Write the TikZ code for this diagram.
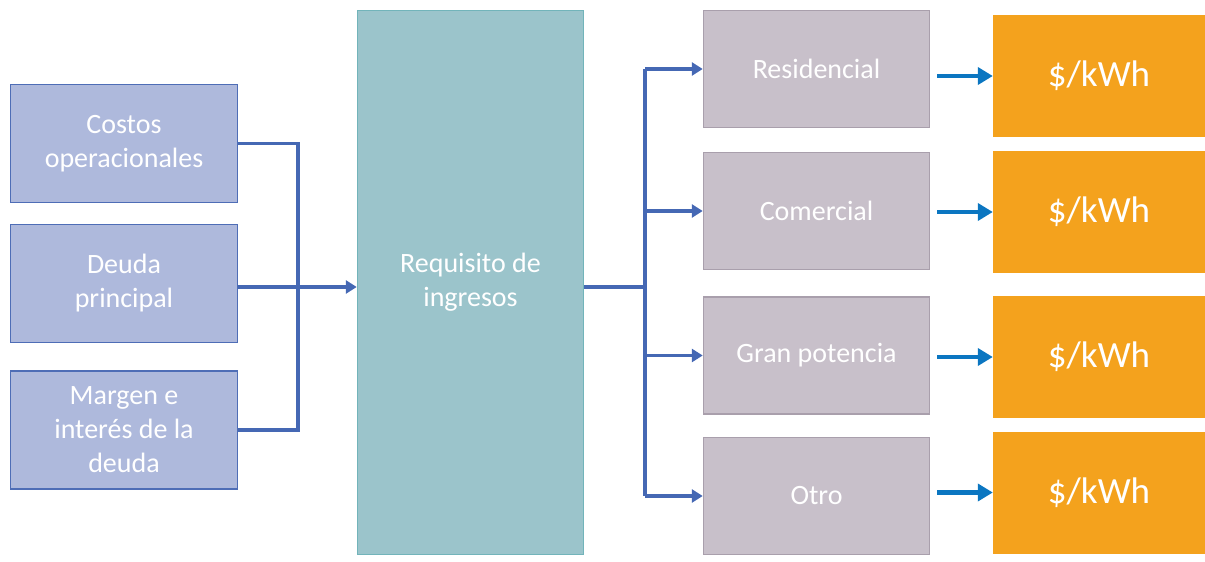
\documentclass[tikz,border=0pt]{standalone}
\usepackage{fontspec}
\setmainfont{Carlito}
\usetikzlibrary{arrows.meta}
\definecolor{costfill}{HTML}{AEB9DC}
\definecolor{costline}{HTML}{4E6DB6}
\definecolor{reqfill}{HTML}{9BC4CB}
\definecolor{reqline}{HTML}{72B4BA}
\definecolor{classfill}{HTML}{C8C0CA}
\definecolor{classline}{HTML}{A99FAC}
\definecolor{pricefill}{HTML}{F4A21D}
\definecolor{feedline}{HTML}{4568B4}
\definecolor{pricearrow}{HTML}{0B76C1}

\begin{document}
\begin{tikzpicture}[x=1pt,y=-1pt,
    costbox/.style={draw=costline, line width=1.5pt, fill=costfill, text=white,
      minimum width=227pt, minimum height=118pt, align=center,
      font=\fontsize{28}{34}\selectfont},
    reqbox/.style={draw=reqline, line width=1.5pt, fill=reqfill, text=white,
      minimum width=226pt, minimum height=544pt, align=center,
      font=\fontsize{28}{34}\selectfont},
    classbox/.style={draw=classline, line width=1.5pt, fill=classfill, text=white,
      minimum width=226pt, minimum height=117pt, align=center,
      font=\fontsize{28}{34}\selectfont},
    pricebox/.style={fill=pricefill, text=white, minimum width=212pt,
      minimum height=122pt, font=\fontsize{37}{44}\selectfont},
    feed/.style={draw=feedline, line width=3.5pt},
    feedarrow/.style={feed, -{Triangle[length=11pt,width=13pt]}},
    pricelink/.style={draw=pricearrow, line width=4.5pt, shorten <=7pt,
      -{Triangle[length=15pt,width=17pt]}}]
\useasboundingbox (0,0) rectangle (1205,562);

% costos que forman el requisito
\node[costbox] (costos) at (124,143.5) {Costos\\operacionales};
\node[costbox] (deuda) at (124,283.5) {Deuda\\principal};
\node[costbox] (margen) at (124,430) {Margen e\\interés de la\\deuda};

\node[reqbox] (req) at (470.5,282.5) {Requisito de\\ingresos};

% clases de clientes
\node[classbox] (res) at (816.5,69) {Residencial};
\node[classbox] (com) at (816.5,211) {Comercial};
\node[classbox] (gran) at (816.5,355.5) {Gran potencia};
\node[classbox] (otro) at (816.5,496) {Otro};

% tarifas
\node[pricebox] (tarifa1) at (1099,76) {\$/kWh};
\node[pricebox] (tarifa2) at (1099,212) {\$/kWh};
\node[pricebox] (tarifa3) at (1099,357) {\$/kWh};
\node[pricebox] (tarifa4) at (1099,492.5) {\$/kWh};

\coordinate (join) at (298,287);
\coordinate (split) at (645,287);

\draw[feed] (costos.east) -| (join) |- (margen.east);
\draw[feed] (deuda.east |- join) -- (join);
\draw[feedarrow] (join) -- (join -| req.west);

\draw[feed] (req.east |- split) -- (split);
\draw[feed] (split |- res.west) -- (split |- otro.west);
\draw[feedarrow] (split |- res.west) -- (res.west);
\draw[feedarrow] (split |- com.west) -- (com.west);
\draw[feedarrow] (split |- gran.west) -- (gran.west);
\draw[feedarrow] (split |- otro.west) -- (otro.west);

\draw[pricelink] (res.east |- tarifa1.west) -- (tarifa1.west);
\draw[pricelink] (com.east |- tarifa2.west) -- (tarifa2.west);
\draw[pricelink] (gran.east |- tarifa3.west) -- (tarifa3.west);
\draw[pricelink] (otro.east |- tarifa4.west) -- (tarifa4.west);
\end{tikzpicture}
\end{document}
